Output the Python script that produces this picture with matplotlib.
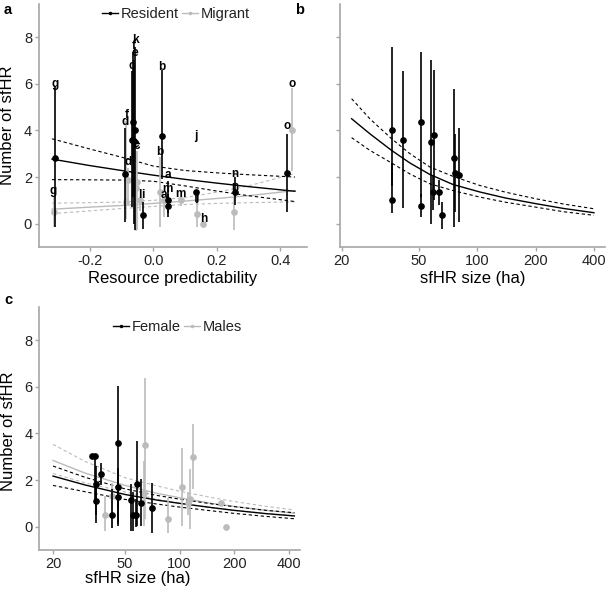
import numpy as np
import matplotlib
matplotlib.use("Agg")
import matplotlib.pyplot as plt
from matplotlib.lines import Line2D

plt.rcParams['font.family'] = ['Liberation Sans', 'DejaVu Sans']

# ---------------- Panel a data (resource predictability) ----------------
res_lab = ['g', 'd', 'f', 'k', 'e', 'c', 'i', 'b', 'a', 'm', 'j', 'n', 'o']
res_x = [-0.310, -0.089, -0.063, -0.058, -0.060, -0.068, -0.032, 0.0265, 0.045, 0.045, 0.135, 0.258, 0.423]
res_y = [2.8, 2.11, 4.36, 4.03, 3.54, 3.6, 0.36, 3.78, 1.0, 0.75, 1.36, 1.36, 2.17]
res_lo = [-0.15, 0.07, 1.14, -0.28, -0.03, 0.71, -0.21, 1.9, 0.46, 0.29, 0.93, 0.79, 0.5]
res_hi = [5.9, 4.1, 7.36, 7.57, 7.03, 6.53, 0.93, 6.6, 1.85, 1.29, 1.36, 2.0, 3.86]
res_laby = [5.97, 4.35, 7.64, 7.86, 7.3, 6.78, 1.21, 6.71, 2.07, 1.5, 3.78, 2.14, 4.2]

mig_lab = ['g', 'd', 'f', 'c', 'e', 'l', 'b', 'a', 'm', 'j', 'h', 'n', 'o']
mig_x = [-0.315, -0.080, -0.085, -0.052, -0.055, -0.042, 0.021, 0.033, 0.087, 0.137, 0.158, 0.256, 0.437]
mig_y = [0.5, 1.89, 0.93, 1.78, 1.55, 1.0, 1.36, 1.0, 1.0, 0.4, 0.0, 0.5, 4.03]
mig_lo = [-0.15, 0.9, 0.2, -0.28, -0.3, 0.55, -0.15, 0.3, 0.75, -0.15, 0.0, -0.29, 2.28]
mig_hi = [1.2, 2.4, 4.4, 3.1, 3.1, 1.0, 2.85, 1.0, 1.05, 0.95, 0.0, 1.35, 5.8]
mig_laby = [1.4, 2.64, 4.64, 3.33, 3.4, 1.21, 3.07, 1.21, 1.29, 1.14, 0.21, 1.57, 6.0]

pred_x = [-0.32, -0.2, -0.1, 0.0, 0.1, 0.2, 0.3, 0.447]
res_fit = [2.77, 2.49, 2.28, 2.08, 1.90, 1.74, 1.59, 1.39]
res_upr = [3.64, 3.2, 2.85, 2.47, 2.28, 2.18, 2.1, 2.0]
res_lwr = [1.89, 1.88, 1.87, 1.82, 1.62, 1.4, 1.2, 0.95]
mig_fit = [0.62, 0.71, 0.78, 0.87, 0.97, 1.08, 1.2, 1.42]
mig_upr = [0.88, 0.9, 0.93, 1.0, 1.12, 1.35, 1.62, 2.15]
mig_lwr = [0.43, 0.55, 0.65, 0.74, 0.82, 0.87, 0.9, 0.94]

# ---------------- Panel b data (sfHR size, residents) ----------------
b_x = [36.2, 36.4, 41.5, 51.3, 51.5, 57.7, 60.0, 58.8, 63.2, 66.1, 75.9, 76.5, 80.1]
b_y = [4.01, 1.01, 3.6, 4.36, 0.76, 3.51, 3.8, 1.36, 1.36, 0.36, 2.8, 2.19, 2.1]
b_lo = [1.6, 0.46, 0.66, 1.14, 0.29, -0.03, 1.0, 0.6, 0.79, -0.24, -0.14, 0.5, 0.07]
b_hi = [7.57, 2.6, 6.53, 7.36, 1.29, 7.03, 6.61, 2.1, 1.86, 0.93, 5.76, 3.86, 4.11]

b_cx = [22.5, 28, 36.2, 45, 57, 75, 103, 140, 200, 280, 400]
b_fit = [4.5, 3.85, 3.14, 2.6, 2.11, 1.68, 1.36, 1.1, 0.86, 0.65, 0.47]
b_upr = [5.36, 4.49, 3.64, 3.0, 2.43, 2.03, 1.64, 1.35, 1.07, 0.84, 0.64]
b_lwr = [3.69, 3.14, 2.6, 2.13, 1.71, 1.42, 1.14, 0.92, 0.71, 0.51, 0.36]

# ---------------- Panel c data (sfHR size, by sex) ----------------
fem_x = [33.0, 34.0, 34.4, 34.4, 36.7, 42.2, 45.9, 45.9, 45.9, 54.2, 55.3, 57.2, 58.0, 60.9, 70.1]
fem_y = [3.03, 3.03, 1.81, 1.1, 2.27, 0.5, 3.6, 1.7, 1.29, 1.14, 0.5, 0.5, 1.84, 1.0, 0.81]
fem_lo = [3.0, 1.2, 0.5, 0.17, 1.77, -0.04, 0.8, 0.03, 0.1, -0.19, -0.2, 0.0, 0.03, 0.03, -0.26]
fem_hi = [3.05, 3.05, 2.6, 1.9, 2.74, 1.6, 6.03, 2.5, 2.0, 1.81, 1.5, 1.2, 3.67, 2.03, 1.89]

mal_x = [38.8, 42.2, 63.5, 64.3, 86.6, 102.5, 111.0, 113.8, 118.8, 168.6, 181.0]
mal_y = [0.5, 1.31, 1.46, 3.5, 0.34, 1.7, 1.0, 1.2, 3.0, 1.0, 0.0]
mal_lo = [-0.19, -0.04, 0.03, 0.31, -0.26, 0.03, 0.5, -0.09, 1.6, 1.0, 0.0]
mal_hi = [1.31, 1.89, 2.8, 6.38, 1.24, 3.39, 1.5, 2.49, 4.39, 1.0, 0.0]

c_cx = [20, 30, 50, 75, 100, 150, 200, 300, 430]
fem_fit = [2.17, 1.79, 1.38, 1.14, 1.0, 0.82, 0.7, 0.56, 0.46]
fem_upr = [2.6, 2.12, 1.62, 1.34, 1.18, 0.98, 0.86, 0.7, 0.6]
fem_lwr = [1.77, 1.5, 1.17, 0.97, 0.84, 0.68, 0.57, 0.44, 0.34]
mal_fit = [2.84, 2.3, 1.77, 1.43, 1.24, 1.0, 0.87, 0.7, 0.58]
mal_upr = [3.53, 2.8, 2.1, 1.75, 1.52, 1.25, 1.08, 0.87, 0.72]
mal_lwr = [2.28, 1.88, 1.49, 1.18, 1.01, 0.8, 0.7, 0.56, 0.47]

y_ticks = [0, 2, 4, 6, 8]
a_xticks = [-0.2, 0.0, 0.2, 0.4]
a_xticklabels = ['-0.2', '0.0', '0.2', '0.4']
size_ticks = [20, 50, 100, 200, 400]

# ---------------- styles ----------------
BLACK = '#000000'
GRAY = '#bbbbbb'
SPINE = '#a6a6a6'
DASH = (0, (3.0, 2.4))

fig = plt.figure(figsize=(6.09, 5.91), dpi=100)
W, H = 609.0, 591.0
axA = fig.add_axes([39 / W, 1 - 247 / H, 268 / W, 243 / H])
axB = fig.add_axes([340 / W, 1 - 247 / H, 265 / W, 243 / H])
axC = fig.add_axes([39.3 / W, 1 - 550 / H, 260.7 / W, 243 / H])


def style(ax):
    for s in ['top', 'right']:
        ax.spines[s].set_visible(False)
    for s in ['left', 'bottom']:
        ax.spines[s].set_color(SPINE)
        ax.spines[s].set_linewidth(1.2)
    ax.tick_params(direction='out', length=3, width=1.0, color=SPINE,
                   labelcolor='#222222', labelsize=10.5, pad=2)
    ax.set_ylim(-1.0, 9.42)
    ax.set_yticks(y_ticks)
    ax.set_facecolor('white')


def group(ax, x, y, lo, hi, color, z):
    ax.vlines(x, lo, hi, color=color, lw=1.2, zorder=z)
    ax.plot(x, y, 'o', color=color, ms=3.8, mec=color, zorder=z + 0.5, clip_on=False)


def curves(ax, x, fit, upr, lwr, color, z):
    ax.plot(x, fit, color=color, lw=1.0, zorder=z)
    ax.plot(x, upr, color=color, lw=0.8, ls=DASH, zorder=z)
    ax.plot(x, lwr, color=color, lw=0.8, ls=DASH, zorder=z)


# ---------------- Panel a ----------------
style(axA)
axA.set_xlim(-0.361, 0.485)
axA.set_xticks(a_xticks)
axA.set_xticklabels(a_xticklabels)
curves(axA, pred_x, mig_fit, mig_upr, mig_lwr, GRAY, 2)
curves(axA, pred_x, res_fit, res_upr, res_lwr, BLACK, 3)
group(axA, mig_x, mig_y, mig_lo, mig_hi, GRAY, 4)
group(axA, res_x, res_y, res_lo, res_hi, BLACK, 6)
for lx, ly, t in zip(mig_x, mig_laby, mig_lab):
    axA.text(lx, ly, t, ha='center', va='center', fontsize=8.5, fontweight='bold', zorder=8)
for lx, ly, t in zip(res_x, res_laby, res_lab):
    axA.text(lx, ly, t, ha='center', va='center', fontsize=8.5, fontweight='bold', zorder=8)
axA.set_xlabel('Resource predictability', fontsize=12)
axA.set_ylabel('Number of sfHR', fontsize=12)
axA.xaxis.set_label_coords(0.5, -0.100)
axA.yaxis.set_label_coords(-0.088, 0.5)
hA = [Line2D([0], [0], color=BLACK, lw=1.0, marker='o', ms=1.5),
      Line2D([0], [0], color=GRAY, lw=1.0, marker='o', ms=1.5)]
axA.legend(hA, ['Resident', 'Migrant'], loc='upper center', bbox_to_anchor=(0.51, 1.04),
           ncol=2, frameon=False, handlelength=1.1, handletextpad=0.2,
           columnspacing=0.2, fontsize=10.5, labelcolor='#222222')

# ---------------- Panel b ----------------
style(axB)
axB.set_xscale('log')
axB.set_xlim(19.6, 456)
axB.set_xticks(size_ticks)
axB.set_xticklabels([str(t) for t in size_ticks])
axB.xaxis.set_minor_locator(matplotlib.ticker.NullLocator())
axB.set_yticklabels([])
curves(axB, b_cx, b_fit, b_upr, b_lwr, BLACK, 2)
group(axB, b_x, b_y, b_lo, b_hi, BLACK, 4)
axB.set_xlabel('sfHR size (ha)', fontsize=12)
axB.xaxis.set_label_coords(0.5, -0.100)

# ---------------- Panel c ----------------
style(axC)
axC.set_xscale('log')
axC.set_xlim(16.8, 462)
axC.set_xticks(size_ticks)
axC.set_xticklabels([str(t) for t in size_ticks])
axC.xaxis.set_minor_locator(matplotlib.ticker.NullLocator())
curves(axC, c_cx, mal_fit, mal_upr, mal_lwr, GRAY, 2)
curves(axC, c_cx, fem_fit, fem_upr, fem_lwr, BLACK, 3)
group(axC, mal_x, mal_y, mal_lo, mal_hi, GRAY, 4)
group(axC, fem_x, fem_y, fem_lo, fem_hi, BLACK, 6)
axC.set_xlabel('sfHR size (ha)', fontsize=12)
axC.set_ylabel('Number of sfHR', fontsize=12)
axC.xaxis.set_label_coords(0.379, -0.088)
axC.yaxis.set_label_coords(-0.09, 0.49)
hC = [Line2D([0], [0], color=BLACK, lw=1.0, marker='o', ms=1.5),
      Line2D([0], [0], color=GRAY, lw=1.0, marker='o', ms=1.5)]
axC.legend(hC, ['Female', 'Males'], loc='upper center', bbox_to_anchor=(0.53, 1.0),
           ncol=2, frameon=False, handlelength=1.1, handletextpad=0.2,
           columnspacing=0.2, fontsize=10.5, labelcolor='#222222')

# panel letters
fig.text(8 / W, 1 - 10 / H, 'a', fontsize=10.5, fontweight='bold', va='center', ha='center')
fig.text(300 / W, 1 - 10 / H, 'b', fontsize=10.5, fontweight='bold', va='center', ha='center')
fig.text(8 / W, 1 - 300 / H, 'c', fontsize=10.5, fontweight='bold', va='center', ha='center')

fig.savefig('out.png', dpi=100, facecolor='white')
